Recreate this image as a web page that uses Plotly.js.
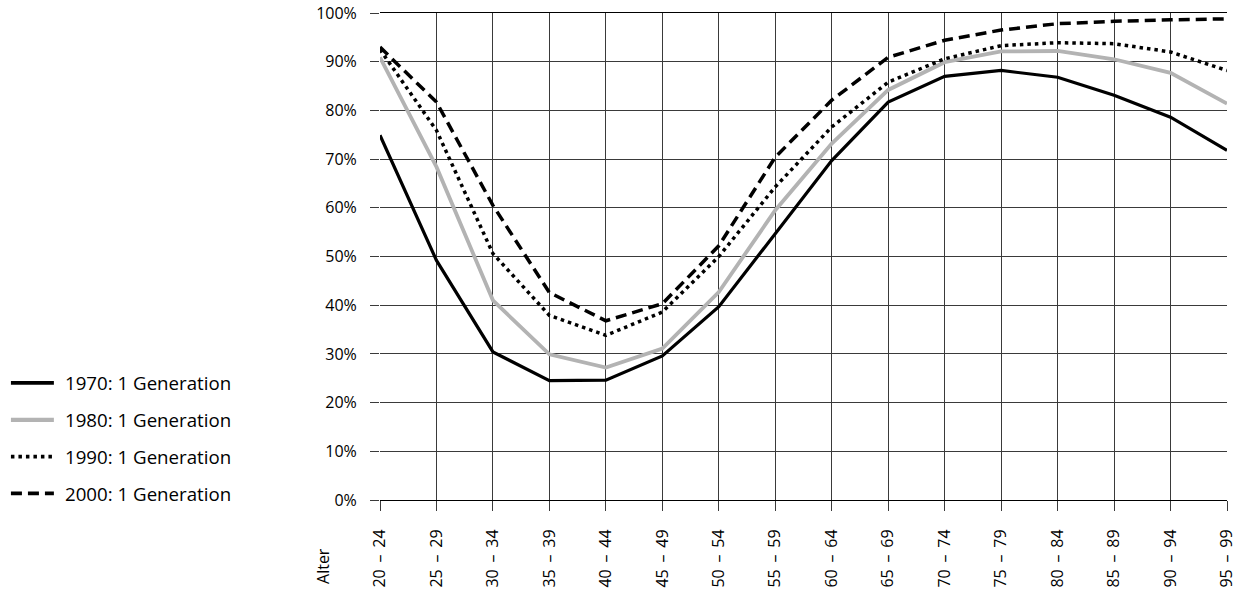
<!DOCTYPE html>
<html>
<head>
<meta charset="utf-8">
<script src="https://cdn.plot.ly/plotly-3.0.1.min.js"></script>
<style>html,body{margin:0;padding:0;background:#fff;}#chart{width:1241px;height:592px;}</style>
</head>
<body>
<div id="chart"></div>
<script>
const categories = ["20 \u2009–\u2009 24","25 \u2009–\u2009 29","30 \u2009–\u2009 34","35 \u2009–\u2009 39","40 \u2009–\u2009 44","45 \u2009–\u2009 49","50 \u2009–\u2009 54","55 \u2009–\u2009 59","60 \u2009–\u2009 64","65 \u2009–\u2009 69","70 \u2009–\u2009 74","75 \u2009–\u2009 79","80 \u2009–\u2009 84","85 \u2009–\u2009 89","90 \u2009–\u2009 94","95 \u2009–\u2009 99"];
const s1970 = [74.9, 49.2, 30.4, 24.5, 24.6, 29.6, 39.7, 54.7, 69.7, 81.7, 87.0, 88.2, 86.8, 83.1, 78.6, 71.8];
const s1980 = [90.9, 68.4, 41.0, 29.9, 27.2, 31.1, 42.7, 59.5, 73.2, 84.2, 89.9, 92.1, 92.2, 90.5, 87.7, 81.4];
const s1990 = [92.5, 75.9, 50.6, 37.9, 33.8, 38.6, 50.0, 64.3, 76.6, 85.8, 90.6, 93.3, 93.9, 93.7, 92.0, 88.2];
const s2000 = [93.0, 81.7, 60.5, 42.6, 36.8, 40.3, 52.2, 70.4, 82.1, 90.9, 94.4, 96.5, 97.8, 98.3, 98.6, 98.8];
const seriesNames = ["1970: 1 Generation","1980: 1 Generation","1990: 1 Generation","2000: 1 Generation"];
const yTickVals = [0,10,20,30,40,50,60,70,80,90,100];
const yTickText = ["0%","10%","20%","30%","40%","50%","60%","70%","80%","90%","100%"];

const styles = [
  {color:"#000000", width:3.2, dash:"solid"},
  {color:"#b3b3b3", width:3.8, dash:"solid"},
  {color:"#000000", width:3.5, dash:"3.5px,4px"},
  {color:"#000000", width:3.5, dash:"11px,6px"}
];
const allSeries = [s1970, s1980, s1990, s2000];
const traces = allSeries.map((s,i)=>({
  type:"scatter", mode:"lines", x:categories, y:s, name:seriesNames[i],
  line:styles[i], showlegend:false, hoverinfo:"skip"
}));

// plot area geometry (px) used to place the hand-drawn legend
const L = 379.5, R = 13.5, T = 12.5, B = 92, W = 1241, H = 592;
const pw = W - L - R, ph = H - T - B;
const px = v => (v - L) / pw;
const py = v => (H - B - v) / ph;
const legendY = [382.8, 419.8, 456.6, 493.4];

const shapes = [];
const annotations = [];
seriesNames.forEach((name,i)=>{
  shapes.push({type:"line", xref:"paper", yref:"paper",
    x0:px(10), x1:px(53), y0:py(legendY[i]), y1:py(legendY[i]),
    line:{color:styles[i].color, width:styles[i].width+0.4, dash:styles[i].dash}});
  annotations.push({text:name, xref:"paper", yref:"paper", x:px(62), y:py(legendY[i]),
    xanchor:"left", yanchor:"middle", showarrow:false,
    font:{family:"'Open Sans', 'Noto Sans', sans-serif", size:18.7, color:"#000"}});
});

const font = "'Open Sans', 'Noto Sans', sans-serif";
annotations.push({
  text:"Alter", xref:"paper", yref:"paper",
  x:px(322.5), y:-(586-500)/ph,
  xanchor:"center", yanchor:"bottom", textangle:-90, showarrow:false,
  font:{family:font, size:16, color:"#000"}
});

const layout = {
  width:W, height:H,
  margin:{l:L, r:R, t:T, b:B, pad:0},
  paper_bgcolor:"#fff", plot_bgcolor:"#fff",
  showlegend:false,
  font:{family:font, color:"#000", size:16},
  xaxis:{
    type:"category", range:[0,15], fixedrange:true,
    showgrid:true, gridcolor:"#3a3a3a", gridwidth:1,
    showline:true, linecolor:"#000", linewidth:1, mirror:true,
    ticks:"outside", ticklen:10, tickcolor:"#3a3a3a", tickwidth:1,
    tickangle:-90, ticklabelstandoff:12,
    tickfont:{family:font, size:16, color:"#000"},
    zeroline:false
  },
  yaxis:{
    range:[0,100], fixedrange:true,
    tickvals:yTickVals, ticktext:yTickText,
    showgrid:true, gridcolor:"#3a3a3a", gridwidth:1,
    showline:false, zeroline:false,
    ticks:"outside", ticklen:9, tickcolor:"#3a3a3a", tickwidth:1,
    ticklabelstandoff:10,
    tickfont:{family:font, size:16, color:"#000"}
  },
  shapes:shapes,
  annotations:annotations
};
Plotly.newPlot("chart", traces, layout, {staticPlot:true, displayModeBar:false});
</script>
</body>
</html>
